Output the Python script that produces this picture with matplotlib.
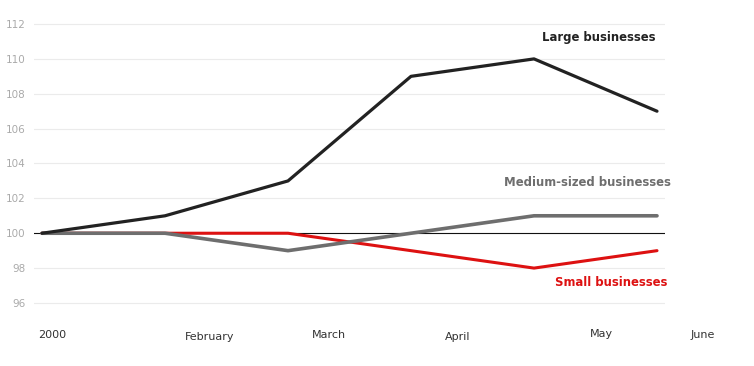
import matplotlib
matplotlib.use("Agg")
import matplotlib.pyplot as plt
import matplotlib.transforms as mtransforms

months = ["2000", "February", "March", "April", "May", "June"]
large = [100, 101, 103, 109, 110, 107]
medium = [100, 100, 99, 100, 101, 101]
small = [100, 100, 100, 99, 98, 99]
yticks = [96, 98, 100, 102, 104, 106, 108, 110, 112]

# layout: label positions (data x) and vertical positions in pixels
label_x = [0.08, 1.36, 2.33, 3.38, 4.55, 5.37]
label_y = [335, 337, 335, 337, 334, 335]

fig = plt.figure(figsize=(7.54, 3.66), dpi=100)
ax = fig.add_axes([34/754, 1-320.4/366, (665-34)/754, (320.4-18.8)/366])
x = list(range(len(large)))

for y in yticks:
    if y != 100:
        ax.axhline(y, color="#ebebeb", lw=0.8, zorder=0)
ax.axhline(100, color="#111111", lw=0.8, zorder=1)

ax.plot(x, small, color="#dd1111", lw=2.2, zorder=2, solid_capstyle="round")
ax.plot(x, medium, color="#6e6e6e", lw=2.6, zorder=3, solid_capstyle="round")
ax.plot(x, large, color="#222222", lw=2.3, zorder=4, solid_capstyle="round")

ax.set_xlim(-8/123, 5 + 8/123)
ax.set_ylim(95, 112.3)
ax.set_yticks(yticks)
ax.set_yticklabels([str(v) for v in yticks], color="#aaaaaa", fontsize=7.5)
ax.tick_params(axis="y", length=0, pad=6)
ax.set_xticks([])
for s in ax.spines.values():
    s.set_visible(False)

tr = mtransforms.blended_transform_factory(ax.transData, fig.transFigure)
for lx, ly, name in zip(label_x, label_y, months):
    ax.text(lx, 1 - ly/366, name, transform=tr,
            ha="center", va="center", fontsize=8, color="#333333")

fig.text(655/754, 1-38/366, "Large businesses", ha="right", va="center",
         fontsize=8.4, fontweight="bold", color="#222222")
fig.text(671/754, 1-182/366, "Medium-sized businesses", ha="right", va="center",
         fontsize=8.4, fontweight="bold", color="#6e6e6e")
fig.text(667/754, 1-283/366, "Small businesses", ha="right", va="center",
         fontsize=8.4, fontweight="bold", color="#dd1111")

fig.savefig("out.png", dpi=100)
